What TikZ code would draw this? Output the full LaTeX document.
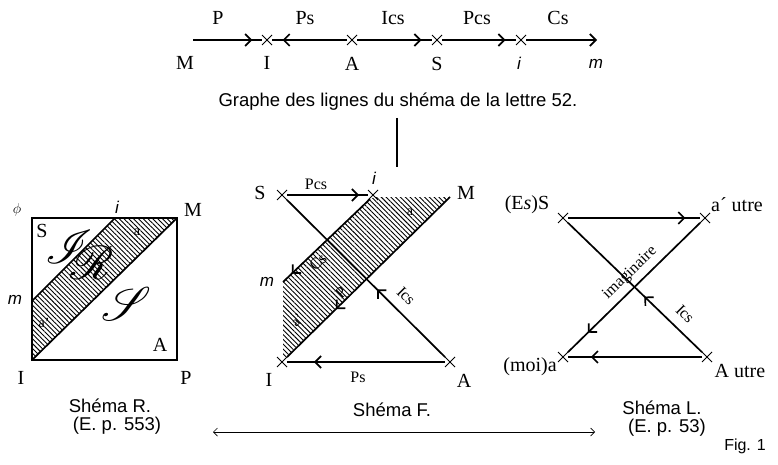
\documentclass[tikz,border=0pt]{standalone}
\usepackage{fontspec}
\setmainfont{Liberation Serif}
\setsansfont{Liberation Sans}
\usepackage{mathrsfs}
\usetikzlibrary{arrows.meta,patterns,patterns.meta,decorations.markings,shapes.misc}
\newcommand\bigscr[1]{\scalebox{1.9}{$\mathscr{#1}$}}
\tikzset{
 ln/.style={line width=1.7pt},
 xmk/.style={cross out,draw,minimum size=9pt,inner sep=0pt,line width=1pt},
 arr at/.style={postaction={decorate,decoration={markings,mark=at position #1 with {\arrow{Straight Barb[length=6pt,width=12pt]}}}}},
 endarr/.style={-{Straight Barb[length=6pt,width=12pt]}},
 lbl/.style={font=\fontsize{20}{20}\selectfont, inner sep=0pt},
 sml/.style={font=\fontsize{16}{16}\selectfont, inner sep=0pt},
 tinytxt/.style={font=\fontsize{14}{14}\selectfont, inner sep=0pt},
 captxt/.style={font=\sffamily\fontsize{18.5}{20}\selectfont, inner sep=0pt},
 itl/.style={font=\sffamily\itshape\fontsize{17}{17}\selectfont, inner sep=0pt},
 scr/.style={inner sep=0pt, font=\fontsize{24.88}{25}\selectfont},
 hatch/.style={pattern={Lines[angle=-45,distance=3.4pt,line width=0.9pt]}},
}
\begin{document}
\begin{tikzpicture}[x=1pt,y=-1pt]
\useasboundingbox (0,0) rectangle (778,465);
% ---------- top graph ----------
\coordinate (tM) at (193,40);
\node[xmk] (tI) at (267,40) {};
\node[xmk] (tA) at (352,40) {};
\node[xmk] (tS) at (437,40) {};
\node[xmk] (ti) at (521,40) {};
\coordinate (tm) at (597,40);
\draw[ln, arr at=0.86] (tM) -- (tI);
\draw[ln, arr at=0.86] (tA) -- (tI);
\draw[ln, arr at=0.86] (tA) -- (tS);
\draw[ln, arr at=0.86] (tS) -- (ti);
\draw[ln, endarr] (ti) -- (tm);
\node[lbl] (lP) at (218,18) {P};
\node[lbl] (lPs) at (305,18) {Ps};
\node[lbl] (lIcs) at (393,18) {Ics};
\node[lbl] (lPcs) at (477,18) {Pcs};
\node[lbl] (lCs) at (558,18) {Cs};
\node[lbl] (nM) at (185,63) {M};
\node[lbl] (nI) at (267,63) {I};
\node[lbl] (nA) at (352,64) {A};
\node[lbl] (nS) at (437,64) {S};
\node[itl] (ni) at (519,63) {i};
\node[itl] (nm) at (596,64) {m};
\node[captxt] (graphe) at (398,102) {Graphe des lignes du shéma de la lettre 52.};
\coordinate (vt) at (397,118);
\coordinate (vb) at (397,167);
\draw[ln] (vt) -- (vb);
% ---------- Schema R ----------
\coordinate (rTL) at (32,218);
\coordinate (rTR) at (177,218);
\coordinate (rBL) at (32,360);
\coordinate (rBR) at (177,360);
\coordinate (rm) at (32,301);
\coordinate (ri) at (115,218);
\fill[hatch] (rm) -- (ri) -- (rTR) -- (rBL) -- cycle;
\draw[ln] (rTL) -- (rTR) -- (rBR) -- (rBL) -- cycle;
\draw[ln] (rm) -- (ri);
\draw[ln] (rBL) -- (rTR);
\node[tinytxt] (rphi) at (17,210) {$\phi$};
\node[itl] (rilbl) at (117,207) {i};
\node[lbl] (rMl) at (193,210) {M};
\node[lbl] (rSl) at (42,231) {S};
\node[lbl] (rAl) at (160,345) {A};
\node[lbl] (rIl) at (21,378) {I};
\node[lbl] (rPl) at (186,378) {P};
\node[itl] (rml) at (15,300) {m};
\node[tinytxt] (ra) at (137,232) {a};
\node[tinytxt] (ra2) at (44,323) {a'};
\node[scr] (rI) at (69,247) {\bigscr{I}};
\node[scr] (rR) at (92,263) {\bigscr{R}};
\node[scr] (rSs) at (127,304) {\bigscr{S}};
\node[captxt] (capR1) at (110,406) {Shéma R.};
\node[captxt] (capR2) at (117,426) {(E. p. 553)};
% ---------- Schema F ----------
\node[xmk] (fS) at (282,195) {};
\node[xmk] (fi) at (373,195) {};
\node[xmk] (fI) at (282,362) {};
\node[xmk] (fA) at (450,362) {};
\coordinate (fM) at (450,197);
\coordinate (fm) at (283,282);
\coordinate (fit) at (370,199);
\coordinate (fbot) at (286,357);
\coordinate (fbl) at (283,357);
\fill[hatch] (fit) -- (375,197) -- (fM) -- (fbot) -- (fbl) -- (fm) -- cycle;
\draw[ln, arr at=0.9] (fit) -- (fm);
\draw[ln, arr at=0.7] (fM) -- (fI);
\draw[ln, arr at=0.43] (fA) -- (fS);
\draw[ln, arr at=0.83] (fA) -- (fI);
\draw[ln, arr at=0.89] (fS) -- (fi);
\node[lbl] (fSl) at (260,193) {S};
\node[itl] (fil) at (374,178) {i};
\node[lbl] (fMl) at (466,193) {M};
\node[lbl] (fIl) at (269,380) {I};
\node[lbl] (fAl) at (464,381) {A};
\node[itl] (fml) at (267,282) {m};
\node[sml] (fPcs) at (316,184) {Pcs};
\node[sml] (fPs) at (358,377) {Ps};
\node[sml, rotate=-45] (fIcs) at (406,296) {Ics};
\node[sml, rotate=45] (fCs) at (318,262) {Cs};
\node[sml, rotate=45] (fP) at (341,293) {P};
\node[tinytxt] (fa) at (410,212) {a};
\node[tinytxt, rotate=45] (fa2) at (297,320) {a'};
\node[captxt] (capF) at (392,410) {Shéma F.};
% ---------- Schema L ----------
\node[xmk] (lS) at (563,218) {};
\node[xmk] (la2) at (705,218) {};
\node[xmk] (la) at (563,357) {};
\node[xmk] (lA) at (707,357) {};
\draw[ln, arr at=0.89] (lS) -- (la2);
\draw[ln, arr at=0.83] (lA) -- (la);
\draw[ln, arr at=0.85] (la2) -- (la);
\draw[ln, arr at=0.43] (lA) -- (lS);
\node[sml, rotate=-45] (lIcs) at (685,314) {Ics};
\node[sml, rotate=44] (limag) at (630,273) {imaginaire};
\node[lbl] (lSl) at (527,205) {(E\textit{s})S};
\node[lbl] (la2l) at (737,205) {a´ utre};
\node[lbl] (lal) at (530,367) {(moi)a};
\node[lbl] (lAl) at (740,371) {A utre};
\node[captxt] (capL1) at (662,408) {Shéma L.};
\node[captxt] (capL2) at (667,428) {(E. p. 53)};
\node[captxt, font=\sffamily\fontsize{16}{16}\selectfont] (fig) at (745,446) {Fig. 1};
% ---------- double arrow ----------
\coordinate (dl) at (213,432);
\coordinate (dr) at (595,432);
\draw[line width=0.7pt, {Straight Barb[length=4pt,width=8pt]}-{Straight Barb[length=4pt,width=8pt]}] (dl) -- (dr);
\end{tikzpicture}
\end{document}
